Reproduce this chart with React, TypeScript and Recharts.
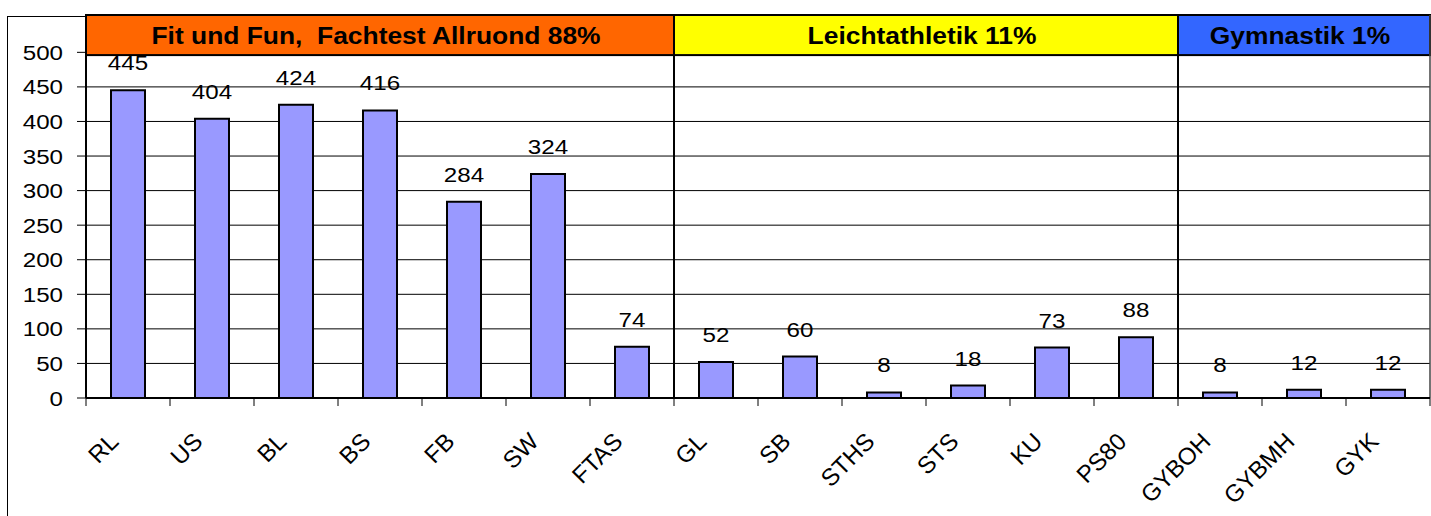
import React from 'react';
import {
  BarChart,
  Bar,
  XAxis,
  YAxis,
  CartesianGrid,
  LabelList,
  ReferenceArea,
  ReferenceLine,
} from 'recharts';

const categories = ['RL', 'US', 'BL', 'BS', 'FB', 'SW', 'FTAS', 'GL', 'SB', 'STHS', 'STS', 'KU', 'PS80', 'GYBOH', 'GYBMH', 'GYK'];
const values = [445, 404, 424, 416, 284, 324, 74, 52, 60, 8, 18, 73, 88, 8, 12, 12];
const yTicks = [0, 50, 100, 150, 200, 250, 300, 350, 400, 450, 500];

const groupNames = ['Fit und Fun,  Fachtest Allruond 88%', 'Leichtathletik 11%', 'Gymnastik 1%'];
const groupStart = ['RL', 'GL', 'GYBOH'];
const groupEnd = ['FTAS', 'PS80', 'GYK'];
const groupColors = ['#FF6600', '#FFFF00', '#3366FF'];
const headerBottom = 496;
const headerTop = 554;

const data = categories.map((c, i) => ({ name: c, value: values[i] }));

const FONT = '"Liberation Sans", Arial, sans-serif';

const YTick = (props: any) => {
  const { x, y, payload } = props;
  return (
    <text
      transform={`translate(${x},${y}) scale(1.15,1)`}
      textAnchor="end"
      dy="0.36em"
      fontSize={21}
      fontFamily={FONT}
      fill="#000"
    >
      {payload.value}
    </text>
  );
};

const XTick = (props: any) => {
  const { x, y, payload, index } = props;
  const off = payload && payload.offset != null ? payload.offset : 42;
  const tx = x - 8;
  const ty = y + 37;
  return (
    <g>
      <line x1={x - off} y1={y - 8} x2={x - off} y2={y} stroke="#000" strokeWidth={1} />
      {index === categories.length - 1 && (
        <line x1={x + off} y1={y - 8} x2={x + off} y2={y} stroke="#000" strokeWidth={1} />
      )}
      <text
        x={tx}
        y={ty}
        transform={`rotate(-45 ${tx} ${ty})`}
        textAnchor="end"
        fontSize={24}
        fontFamily={FONT}
        fill="#000"
      >
        {payload.value}
      </text>
    </g>
  );
};

const BarLabel = (props: any) => {
  const { x, y, width, value } = props;
  return (
    <text
      transform={`translate(${x + width / 2},${y - 20}) scale(1.15,1)`}
      textAnchor="middle"
      fontSize={21}
      fontFamily={FONT}
      fill="#000"
    >
      {value}
    </text>
  );
};

const makeHeader = (text: string) => (props: any) => {
  const { x, y, width, height, fill } = props;
  return (
    <g>
      <rect x={x} y={y} width={width} height={height} fill={fill} stroke="#000" strokeWidth={2} />
      <text
        transform={`translate(${x + width / 2 - 4},${y + height / 2}) scale(1.1,1)`}
        textAnchor="middle"
        dy="0.36em"
        fontSize={24}
        fontWeight="bold"
        fontFamily={FONT}
        fill="#000"
        style={{ whiteSpace: 'pre' }}
      >
        {text}
      </text>
    </g>
  );
};

export default function App() {
  return (
    <div style={{ position: 'absolute', left: 0, top: 0, width: 1431, height: 516, overflow: 'hidden', background: '#fff' }}>
      <div
        style={{
          position: 'absolute',
          left: 7,
          top: 16,
          width: 1500,
          height: 600,
          borderLeft: '1px solid #000',
          borderTop: '1px solid #000',
        }}
      />
      <div style={{ position: 'absolute', left: 0, top: 0 }}>
        <BarChart
          width={1431}
          height={516}
          data={data}
          margin={{ top: 15, right: 1, bottom: 38, left: 0 }}
        >
          <CartesianGrid vertical={false} stroke="#000" strokeWidth={1} />
          <XAxis
            dataKey="name"
            interval={0}
            height={80}
            tickSize={8}
            tickMargin={0}
            tickLine={false}
            axisLine={{ stroke: '#000', strokeWidth: 2 }}
            tick={<XTick />}
          />
          <YAxis
            width={86}
            domain={[0, headerTop]}
            ticks={yTicks}
            interval={0}
            tickSize={9}
            tickMargin={14}
            tickLine={{ stroke: '#000' }}
            axisLine={{ stroke: '#000', strokeWidth: 2 }}
            tick={<YTick />}
            allowDataOverflow
          />
          <ReferenceLine x="GL" position="start" stroke="#000" strokeWidth={2} />
          <ReferenceLine x="GYBOH" position="start" stroke="#000" strokeWidth={2} />
          <ReferenceLine x="GYK" position="end" stroke="#444" strokeWidth={1.5} />
          <Bar dataKey="value" fill="#9999FF" stroke="#000" strokeWidth={2} barSize={34} isAnimationActive={false}>
            <LabelList dataKey="value" content={<BarLabel />} />
          </Bar>
          {groupNames.map((g, i) => (
            <ReferenceArea
              key={g}
              x1={groupStart[i]}
              x2={groupEnd[i]}
              y1={headerBottom}
              y2={headerTop}
              fill={groupColors[i]}
              fillOpacity={1}
              ifOverflow="visible"
              shape={makeHeader(g)}
            />
          ))}
        </BarChart>
      </div>
    </div>
  );
}
